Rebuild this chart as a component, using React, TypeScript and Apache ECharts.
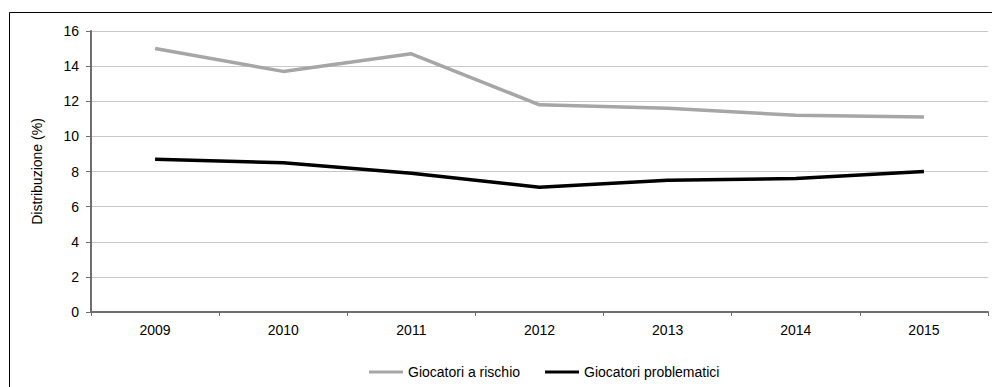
import React, { useEffect, useRef } from "react";
import * as echarts from "echarts";

const years = ["2009", "2010", "2011", "2012", "2013", "2014", "2015"];
const giocatoriRischio = [15.0, 13.7, 14.7, 11.8, 11.6, 11.2, 11.1];
const giocatoriProblematici = [8.7, 8.5, 7.9, 7.1, 7.5, 7.6, 8.0];
const yTicks = { min: 0, max: 16, interval: 2 };

const FONT = "'Liberation Sans', Arial, sans-serif";

export default function App() {
  const ref = useRef<HTMLDivElement>(null);
  useEffect(() => {
    if (!ref.current) return;
    const chart = echarts.init(ref.current, undefined, { renderer: "svg" });
    chart.setOption({
      animation: false,
      textStyle: { fontFamily: FONT },
      graphic: [
        {
          type: "rect",
          shape: { x: 9.5, y: 12.5, width: 1100, height: 500 },
          style: { fill: "none", stroke: "#000", lineWidth: 1 },
          silent: true,
        },
      ],
      grid: { left: 91, top: 31, right: 4, bottom: 75 },
      legend: {
        left: 364,
        top: 360,
        itemWidth: 34,
        itemHeight: 14,
        itemGap: 25,
        textStyle: { fontSize: 14, color: "#000", fontFamily: FONT },
        data: [
          { name: "Giocatori a rischio", icon: "path://M0,6h34v3h-34z" },
          { name: "Giocatori problematici", icon: "path://M0,6h34v3h-34z" },
        ],
      },
      xAxis: {
        type: "category",
        data: years,
        boundaryGap: true,
        axisLine: { lineStyle: { color: "#6e6e6e", width: 2 } },
        axisTick: { show: true, length: 4, inside: false, lineStyle: { color: "#6e6e6e", width: 1 } },
        axisLabel: { fontSize: 14, color: "#000", margin: 11, fontFamily: FONT },
        splitLine: { show: false },
      },
      yAxis: {
        type: "value",
        min: yTicks.min,
        max: yTicks.max,
        interval: yTicks.interval,
        name: "Distribuzione (%)",
        nameLocation: "middle",
        nameGap: 47,
        nameRotate: 90,
        nameTextStyle: { fontSize: 14, color: "#000", fontFamily: FONT },
        axisLine: { show: true, lineStyle: { color: "#6e6e6e", width: 2 } },
        axisTick: { show: true, length: 5, lineStyle: { color: "#6e6e6e", width: 1 } },
        axisLabel: { fontSize: 14, color: "#000", margin: 12, fontFamily: FONT },
        splitLine: { show: true, lineStyle: { color: "#c8c8c8", width: 1 } },
      },
      series: [
        {
          name: "Giocatori a rischio",
          type: "line",
          data: giocatoriRischio,
          symbol: "none",
          lineStyle: { color: "#a6a6a6", width: 3.5 },
          itemStyle: { color: "#a6a6a6" },
        },
        {
          name: "Giocatori problematici",
          type: "line",
          data: giocatoriProblematici,
          symbol: "none",
          lineStyle: { color: "#000000", width: 3.5 },
          itemStyle: { color: "#000000" },
        },
      ],
    });
    return () => chart.dispose();
  }, []);
  return (
    <div
      ref={ref}
      style={{ position: "absolute", left: 0, top: 0, width: 992, height: 387, background: "#fff" }}
    />
  );
}
